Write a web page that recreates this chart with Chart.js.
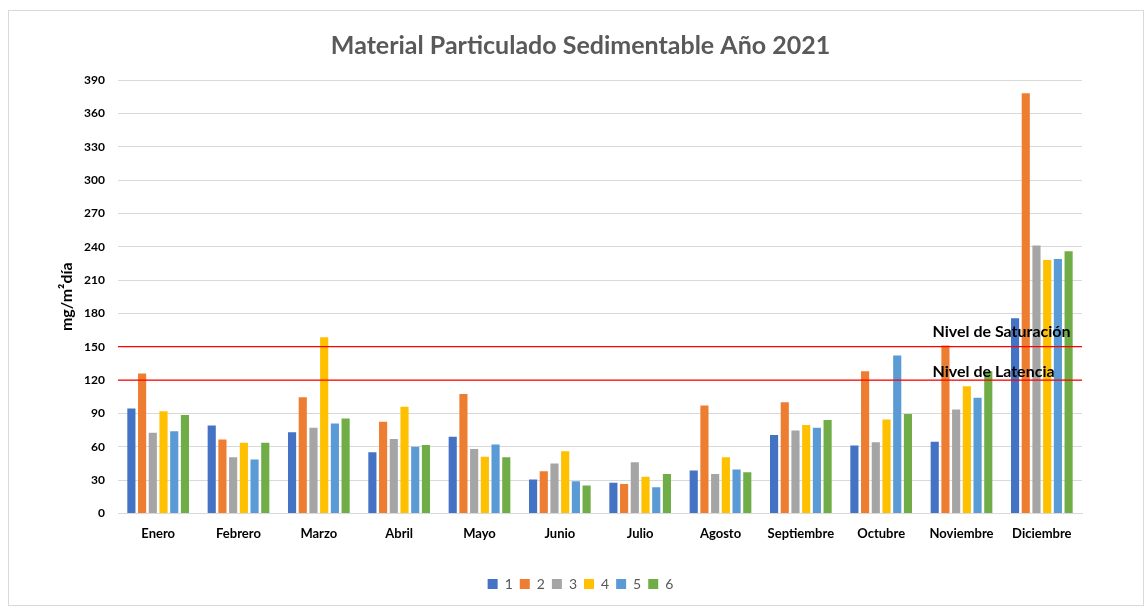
<!DOCTYPE html>
<html>
<head>
<meta charset="utf-8">
<script src="https://cdn.jsdelivr.net/npm/chart.js@4"></script>
<style>
  html, body { margin: 0; padding: 0; background: #fff; }
  #wrap { position: absolute; left: 8px; top: 10px; width: 1134px; height: 594px; border: 1px solid #d9d9d9; }
</style>
</head>
<body>
<div id="wrap"><canvas id="c"></canvas></div>
<script>
// data
const months = ['Enero','Febrero','Marzo','Abril','Mayo','Junio','Julio','Agosto','Septiembre','Octubre','Noviembre','Diciembre'];
const s1 = [94.5, 79, 73, 55, 69, 30.5, 27.5, 38.5, 70.5, 61, 64.5, 175.5];
const s2 = [126, 66.5, 104.5, 82.5, 107.5, 38, 26.5, 97, 100, 128, 151, 378];
const s3 = [72.5, 50.5, 77, 67, 58, 45, 46, 35.5, 74.5, 64, 93.5, 241];
const s4 = [92, 63.5, 158.5, 96, 51, 56, 33, 50.5, 79.5, 84.5, 114.5, 228];
const s5 = [74, 48.5, 81, 60, 62, 29, 23.5, 39.5, 77, 142, 104, 229];
const s6 = [88.5, 63.5, 85.5, 61.5, 50.5, 25, 35.5, 37, 84, 89.5, 128, 236];
const seriesNames = ['1','2','3','4','5','6'];
const colors = ['#4472C4','#ED7D31','#A5A5A5','#FFC000','#5B9BD5','#70AD47'];
const refLevels = [150, 120];
const refLabels = ['Nivel de Saturación', 'Nivel de Latencia'];
const yTicks = [0,30,60,90,120,150,180,210,240,270,300,330,360,390];

const FONT = 'Lato, "Open Sans", sans-serif';
const labelLift = [15, 8]; // px above each red line

// red reference lines + their labels, placed through the y scale
const refLines = {
  id: 'refLines',
  afterDatasetsDraw(chart) {
    const { ctx, chartArea, scales } = chart;
    ctx.save();
    refLevels.forEach((v, i) => {
      const y = scales.y.getPixelForValue(v);
      ctx.strokeStyle = '#FF0000';
      ctx.lineWidth = 1.3;
      ctx.beginPath();
      ctx.moveTo(chartArea.left, y);
      ctx.lineTo(chartArea.right, y);
      ctx.stroke();
      ctx.fillStyle = '#000';
      ctx.font = 'bold 16px ' + FONT;
      ctx.textAlign = 'left';
      ctx.textBaseline = 'middle';
      ctx.fillText(refLabels[i], scales.x.getPixelForValue(10) - 29, y - labelLift[i]);
    });
    ctx.restore();
  }
};

const data = [s1, s2, s3, s4, s5, s6];

new Chart(document.getElementById('c'), {
  type: 'bar',
  data: {
    labels: months,
    datasets: data.map((d, i) => ({
      label: seriesNames[i],
      data: d,
      backgroundColor: colors[i],
      borderWidth: 0,
      barPercentage: 0.76,
      categoryPercentage: 0.8,
    })),
  },
  options: {
    responsive: true, maintainAspectRatio: false,
    animation: false,
    layout: { padding: { left: 70, right: 61, top: 12, bottom: 4 } },
    plugins: {
      title: {
        display: true,
        text: 'Material Particulado Sedimentable Año 2021',
        color: '#595959',
        font: { family: FONT, size: 25, weight: 'bold' },
        padding: { top: 8, bottom: 19 },
      },
      legend: {
        position: 'bottom',
        labels: {
          color: '#595959', boxWidth: 10, boxHeight: 10, padding: 7,
          font: { family: FONT, size: 14 },
        },
      },
      tooltip: { enabled: false },
    },
    scales: {
      x: {
        grid: { display: false },
        border: { color: '#d9d9d9' },
        ticks: { color: '#000', font: { family: FONT, size: 13, weight: 'bold' }, maxRotation: 0, padding: 5 },
        afterFit: ax => { ax.height += 23; },
      },
      y: {
        min: 0, max: 390,
        afterBuildTicks: ax => { ax.ticks = yTicks.map(v => ({ value: v })); },
        afterFit: ax => { ax.width = 39; },
        grid: { color: '#d9d9d9', drawTicks: false },
        border: { display: false },
        ticks: { color: '#000', font: { family: FONT, size: 12, weight: 'bold' }, padding: 13 },
        title: { display: true, text: 'mg/m²día', color: '#000', font: { family: FONT, size: 16, weight: 'bold' }, padding: { top: -22 } },
      },
    },
  },
  plugins: [refLines],
});
</script>
</body>
</html>
